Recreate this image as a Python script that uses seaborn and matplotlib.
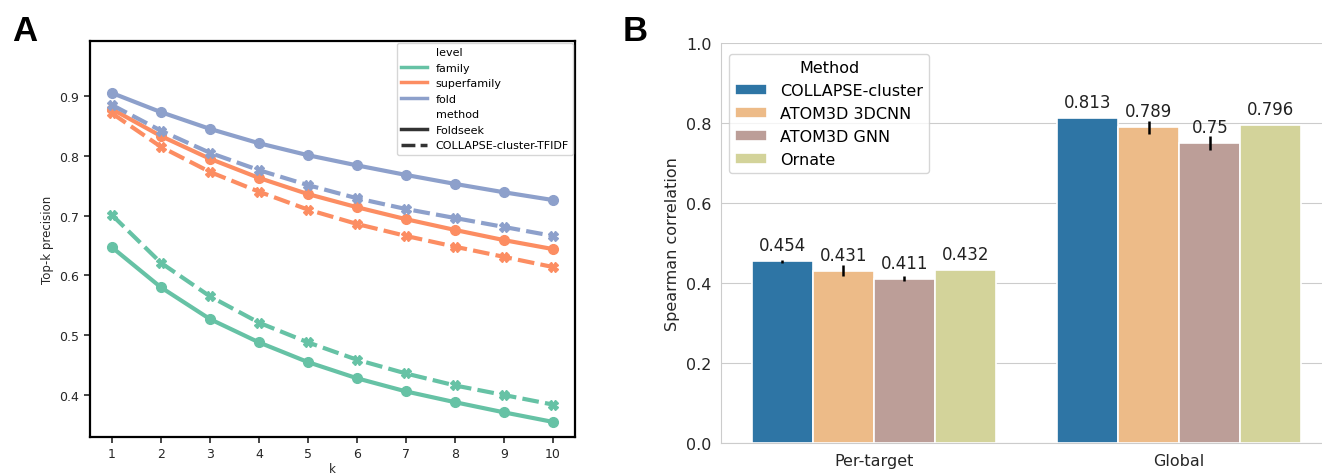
import numpy as np
import pandas as pd
import matplotlib
matplotlib.use("Agg")
import matplotlib.pyplot as plt
import seaborn as sns

# ---------------- Panel A data ----------------
k_values = [1, 2, 3, 4, 5, 6, 7, 8, 9, 10]
levels = ["family", "superfamily", "fold"]
methods_a = ["Foldseek", "COLLAPSE-cluster-TFIDF"]

family_foldseek = [0.647, 0.580, 0.527, 0.488, 0.455, 0.428, 0.406, 0.388, 0.371, 0.355]
family_collapse = [0.701, 0.621, 0.565, 0.521, 0.488, 0.459, 0.436, 0.416, 0.400, 0.384]
superfamily_foldseek = [0.878, 0.833, 0.795, 0.763, 0.736, 0.714, 0.694, 0.676, 0.659, 0.644]
superfamily_collapse = [0.871, 0.815, 0.773, 0.740, 0.710, 0.686, 0.666, 0.648, 0.631, 0.614]
fold_foldseek = [0.905, 0.873, 0.845, 0.821, 0.801, 0.784, 0.768, 0.753, 0.739, 0.726]
fold_collapse = [0.885, 0.842, 0.805, 0.776, 0.751, 0.729, 0.711, 0.696, 0.681, 0.666]

level_colors = ["#66c2a5", "#fc8d62", "#8da0cb"]

# ---------------- Panel B data ----------------
tasks = ["Per-target", "Global"]
methods_b = ["COLLAPSE-cluster", "ATOM3D 3DCNN", "ATOM3D GNN", "Ornate"]
per_target_vals = [0.454, 0.431, 0.411, 0.432]
global_vals = [0.813, 0.789, 0.750, 0.796]
per_target_err = [0.003, 0.013, 0.006, 0.0]
global_err = [0.0, 0.017, 0.017, 0.0]
method_colors = ["#2e75a5", "#edbb88", "#bc9e98", "#d3d39a"]

# ---------------- Build data frames ----------------
series_a = {
    ("family", "Foldseek"): family_foldseek,
    ("family", "COLLAPSE-cluster-TFIDF"): family_collapse,
    ("superfamily", "Foldseek"): superfamily_foldseek,
    ("superfamily", "COLLAPSE-cluster-TFIDF"): superfamily_collapse,
    ("fold", "Foldseek"): fold_foldseek,
    ("fold", "COLLAPSE-cluster-TFIDF"): fold_collapse,
}
rows = []
for (lvl, m), vals in series_a.items():
    for k, v in zip(k_values, vals):
        rows.append({"k": k, "precision": v, "level": lvl, "method": m})
df_a = pd.DataFrame(rows)

rows_b = []
for t, vals in zip(tasks, [per_target_vals, global_vals]):
    for m, v in zip(methods_b, vals):
        rows_b.append({"task": t, "method": m, "value": v})
df_b = pd.DataFrame(rows_b)

# ---------------- Figure ----------------
fig = plt.figure(figsize=(13.22, 4.77), dpi=100)

# Panel A
with sns.axes_style("ticks"):
    ax_a = fig.add_axes([0.068, 0.082, 0.367, 0.830])
sns.lineplot(data=df_a, x="k", y="precision", hue="level", style="method",
             hue_order=levels, style_order=methods_a,
             palette=level_colors, markers=["o", "X"], dashes=True,
             lw=3, markersize=7, ax=ax_a)
for ln in ax_a.lines:
    ln.set_markeredgecolor(ln.get_color())
    ln.set_markeredgewidth(1.0)
for sp in ax_a.spines.values():
    sp.set_color("black")
    sp.set_linewidth(1.6)
ax_a.set_xticks(k_values)
ax_a.set_yticks([0.4, 0.5, 0.6, 0.7, 0.8, 0.9])
ax_a.set_xlim(0.55, 10.45)
ax_a.set_ylim(0.33, 0.992)
ax_a.tick_params(labelsize=9, width=1.2, length=4)
ax_a.set_xlabel("k", fontsize=8.5, labelpad=1)
ax_a.set_ylabel("Top-k precision", fontsize=8.5)
leg_a = ax_a.legend(loc="upper right", fontsize=8, borderaxespad=0.15,
                    handlelength=2.3, labelspacing=0.5, frameon=True)
for h in leg_a.legend_handles:
    h.set_marker("")
    h.set_linewidth(2.5)
leg_a.get_frame().set_edgecolor("#cccccc")

# Panel B
with sns.axes_style("whitegrid"):
    ax_b = fig.add_axes([0.5455, 0.069, 0.462, 0.839])
sns.barplot(data=df_b, x="task", y="value", hue="method", order=tasks,
            hue_order=methods_b, palette=method_colors, errorbar=None,
            saturation=1, edgecolor="white", linewidth=1.2, ax=ax_b)
errs = [[per_target_err[i], global_err[i]] for i in range(len(methods_b))]
for cont, e in zip(ax_b.containers, errs):
    xs = [p.get_x() + p.get_width() / 2 for p in cont.patches]
    ys = [p.get_height() for p in cont.patches]
    ax_b.errorbar(xs, ys, yerr=e, fmt="none", ecolor="black", elinewidth=1.8,
                  capsize=0, zorder=5)
    ax_b.bar_label(cont, fmt="%g", padding=5, fontsize=12, color="#222222")
ax_b.set_ylim(0, 1.0)
ax_b.set_xlim(-0.5, 1.5)
ax_b.set_yticks([0.0, 0.2, 0.4, 0.6, 0.8, 1.0])
ax_b.set_xlabel("")
ax_b.set_ylabel("Spearman correlation", fontsize=11.5)
ax_b.tick_params(labelsize=11.5)
ax_b.grid(axis="x", visible=False)
sns.despine(ax=ax_b, top=True, right=True)
for sp in ["left", "bottom"]:
    ax_b.spines[sp].set_color("#cccccc")
leg_b = ax_b.legend(title="Method", loc="upper left", fontsize=11.5,
                    title_fontsize=11.5, bbox_to_anchor=(0.005, 0.985),
                    borderaxespad=0.3)

# Panel letters
fig.text(0.009, 0.915, "A", fontsize=25, fontweight="bold",
         family="Liberation Sans")
fig.text(0.471, 0.915, "B", fontsize=25, fontweight="bold",
         family="Liberation Sans")

fig.savefig("out.png", dpi=100)
